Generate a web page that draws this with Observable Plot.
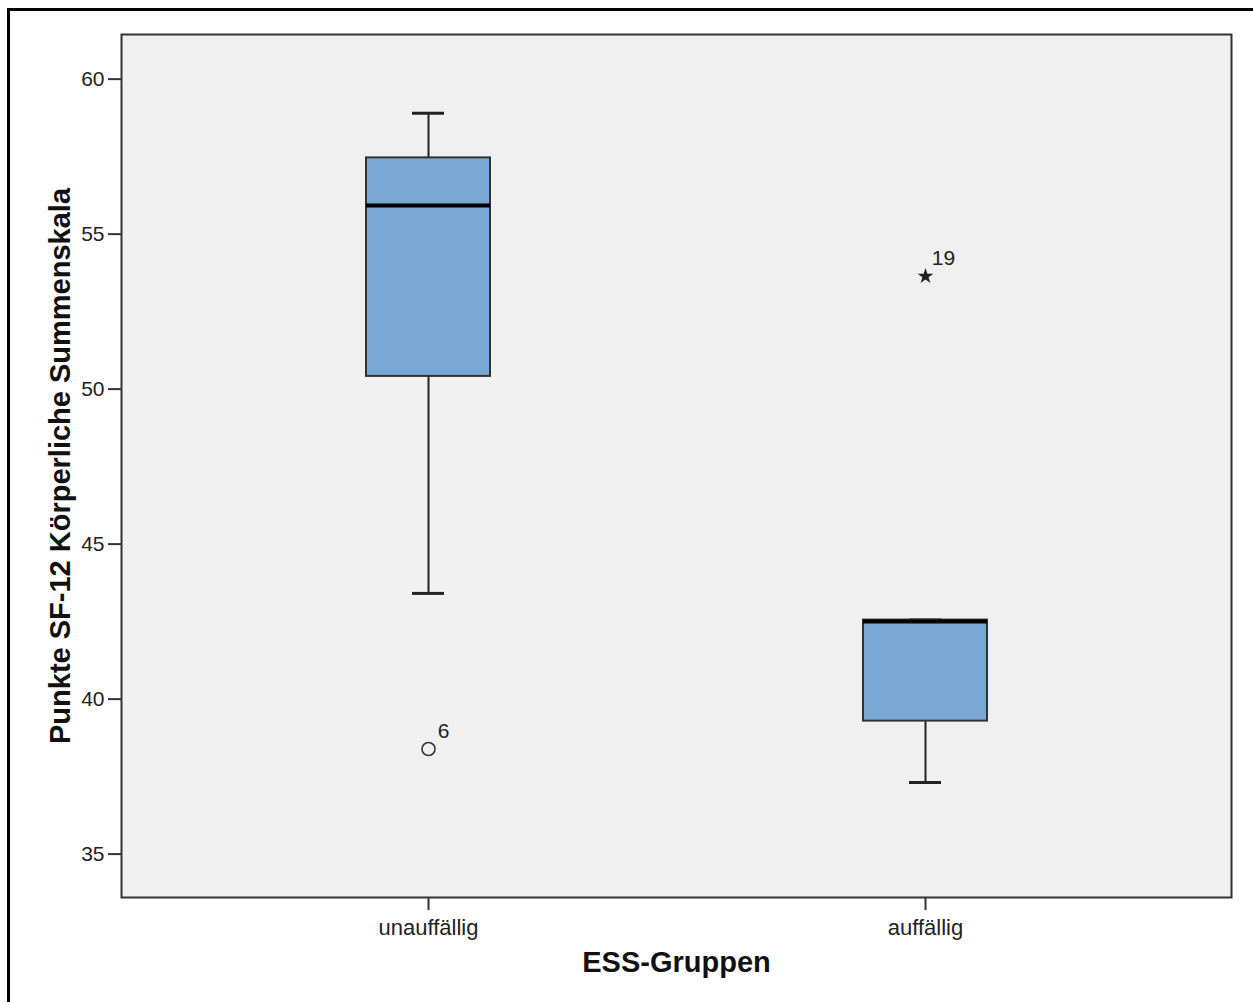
<!DOCTYPE html>
<html><head><meta charset="utf-8">
<script src="https://cdn.jsdelivr.net/npm/d3@7"></script>
<script src="https://cdn.jsdelivr.net/npm/@observablehq/plot@0.6"></script>
<style>
body{margin:0;background:#fff;}
#wrap{position:relative;width:1253px;height:1002px;overflow:hidden;}
#border{position:absolute;left:7px;top:8px;width:1300px;height:1100px;border-left:3px solid #000;border-top:3px solid #000;pointer-events:none;}
</style></head><body><div id="wrap"></div>
<script>
// Data
const groups = ["unauffällig", "auffällig"];
const q1 = [50.41, 39.29];
const median = [55.92, 42.50];
const q3 = [57.46, 42.55];
const whiskerLow = [43.41, 37.31];
const whiskerHigh = [58.90, 42.55];
const outlierGroup = ["unauffällig"];
const outlierValue = [38.39];
const outlierLabel = ["6"];
const extremeGroup = ["auffällig"];
const extremeValue = [53.64];
const extremeLabel = ["19"];
const yTicks = [35, 40, 45, 50, 55, 60];
const xTitle = "ESS-Gruppen";
const yTitle = "Punkte SF-12 Körperliche Summenskala";

const boxes = groups.map((g, i) => ({group: g, q1: q1[i], med: median[i], q3: q3[i], lo: whiskerLow[i], hi: whiskerHigh[i]}));
const outliers = outlierGroup.map((g, i) => ({group: g, value: outlierValue[i], label: outlierLabel[i]}));
const extremes = extremeGroup.map((g, i) => ({group: g, value: extremeValue[i], label: extremeLabel[i]}));

const ink = "#222";
const chart = Plot.plot({
  width: 1253,
  height: 1002,
  marginLeft: 121,
  marginTop: 34,
  marginRight: 22,
  marginBottom: 105,
  style: {fontFamily: "'Liberation Sans', Arial, sans-serif", color: ink, background: "transparent"},
  x: {type: "band", domain: groups, paddingInner: 0.751, paddingOuter: 0.49},
  y: {domain: [33.6, 61.44]},
  marks: [
    Plot.frame({fill: "#f0f0f0", stroke: "none"}),
    Plot.ruleX(boxes, {x: "group", y1: "lo", y2: "q1", stroke: ink, strokeWidth: 2}),
    Plot.ruleX(boxes, {x: "group", y1: "q3", y2: "hi", stroke: ink, strokeWidth: 2}),
    Plot.tickY(boxes, {x: "group", y: "lo", insetLeft: 46, insetRight: 46, stroke: ink, strokeWidth: 3}),
    Plot.tickY(boxes, {x: "group", y: "hi", insetLeft: 46, insetRight: 46, stroke: ink, strokeWidth: 3}),
    Plot.barY(boxes, {x: "group", y1: "q1", y2: "q3", fill: "#79a8d5", stroke: "#333", strokeWidth: 2}),
    Plot.tickY(boxes, {x: "group", y: "med", stroke: "#000", strokeWidth: 4}),
    Plot.dot(outliers, {x: "group", y: "value", symbol: "circle", r: 6.5, stroke: "#333", strokeWidth: 1.6, fill: "none"}),
    Plot.text(outliers, {x: "group", y: "value", text: "label", dx: 15, dy: -18, fontSize: 21, fill: ink}),
    Plot.dot(extremes, {x: "group", y: "value", symbol: "star", r: 5, fill: ink, stroke: "none"}),
    Plot.text(extremes, {x: "group", y: "value", text: "label", dx: 18, dy: -18, fontSize: 21, fill: ink}),
    Plot.frame({stroke: "#333", strokeWidth: 2}),
    Plot.axisY({ticks: yTicks, tickSize: 13, tickPadding: 4, fontSize: 21, label: null, stroke: "#333", strokeWidth: 2, tickFormat: d => String(d)}),
    Plot.axisX({tickSize: 13, tickPadding: 9, fontSize: 22, label: null, stroke: "#333", strokeWidth: 2}),
    Plot.text([xTitle], {text: d => d, frameAnchor: "bottom", dy: 74, fontSize: 29, fontWeight: "bold", fill: "#111"}),
    Plot.text([yTitle], {text: d => d, frameAnchor: "left", textAnchor: "middle", dx: -61, rotate: -90, fontSize: 29, fontWeight: "bold", fill: "#111"})
  ]
});
const wrap = document.getElementById("wrap");
wrap.appendChild(chart);
const b = document.createElement("div");
b.id = "border";
wrap.appendChild(b);
</script>
</body></html>
